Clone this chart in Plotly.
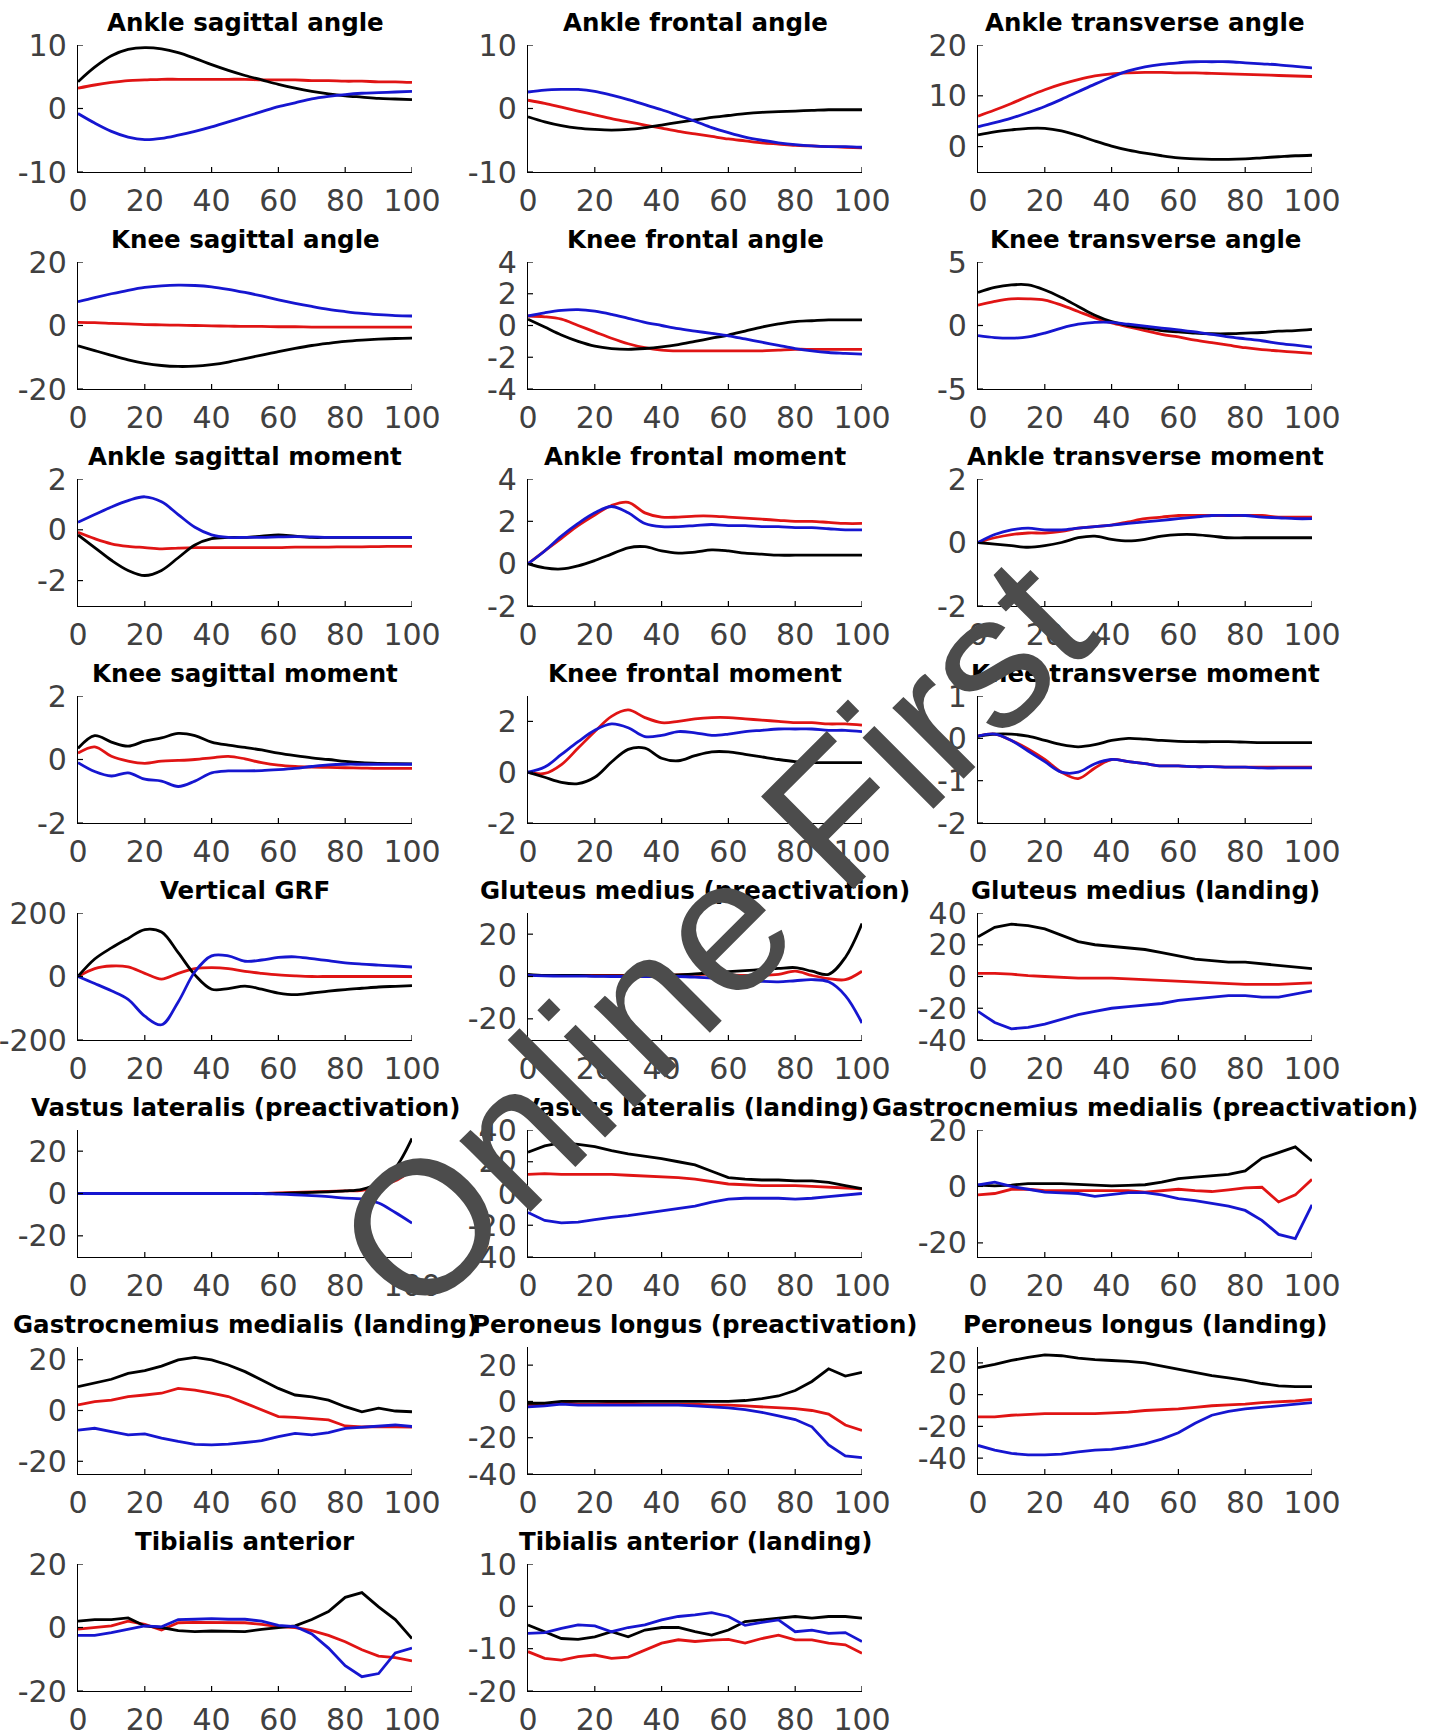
import plotly.graph_objects as go

W, H = 1439, 1733

# Normalised time (% of phase)
X = [0, 5, 10, 15, 20, 25, 30, 35, 40, 45, 50, 55, 60, 65, 70, 75, 80, 85, 90, 95, 100]
XTICKS = [0, 20, 40, 60, 80, 100]

# ---- joint angles ----
ankle_sag_ang_k = [4.2, 6.5, 8.3, 9.3, 9.6, 9.4, 8.8, 7.9, 6.9, 6.0, 5.2, 4.5, 3.8, 3.2, 2.7, 2.3, 2.0, 1.8, 1.6, 1.5, 1.4]
ankle_sag_ang_r = [3.2, 3.7, 4.1, 4.4, 4.5, 4.6, 4.6, 4.6, 4.6, 4.6, 4.6, 4.5, 4.5, 4.5, 4.4, 4.4, 4.3, 4.3, 4.2, 4.2, 4.1]
ankle_sag_ang_b = [-0.8, -2.3, -3.6, -4.5, -4.9, -4.7, -4.2, -3.6, -2.9, -2.1, -1.3, -0.5, 0.3, 0.9, 1.5, 1.9, 2.2, 2.4, 2.5, 2.6, 2.7]

ankle_front_ang_k = [-1.3, -2.1, -2.7, -3.1, -3.3, -3.4, -3.3, -3.0, -2.6, -2.2, -1.8, -1.4, -1.1, -0.8, -0.6, -0.5, -0.4, -0.3, -0.2, -0.2, -0.2]
ankle_front_ang_r = [1.3, 0.8, 0.2, -0.4, -1.0, -1.6, -2.1, -2.6, -3.1, -3.6, -4.0, -4.4, -4.8, -5.1, -5.4, -5.6, -5.8, -5.9, -6.0, -6.1, -6.2]
ankle_front_ang_b = [2.6, 2.9, 3.0, 3.0, 2.7, 2.1, 1.4, 0.6, -0.2, -1.1, -2.0, -3.0, -3.8, -4.5, -5.0, -5.4, -5.7, -5.9, -6.0, -6.0, -6.1]

ankle_trans_ang_k = [2.3, 2.9, 3.3, 3.6, 3.6, 3.1, 2.2, 1.1, 0.1, -0.7, -1.3, -1.8, -2.2, -2.4, -2.5, -2.5, -2.4, -2.2, -2.0, -1.8, -1.7]
ankle_trans_ang_r = [6.0, 7.2, 8.5, 9.9, 11.2, 12.3, 13.2, 13.9, 14.3, 14.5, 14.6, 14.6, 14.5, 14.5, 14.4, 14.3, 14.2, 14.1, 14.0, 13.9, 13.8]
ankle_trans_ang_b = [3.9, 4.7, 5.6, 6.7, 7.9, 9.3, 10.8, 12.3, 13.7, 14.9, 15.7, 16.2, 16.5, 16.7, 16.7, 16.7, 16.5, 16.3, 16.1, 15.8, 15.5]

knee_sag_ang_k = [-6.4, -7.9, -9.4, -10.8, -11.9, -12.6, -12.9, -12.8, -12.3, -11.5, -10.4, -9.3, -8.2, -7.2, -6.3, -5.6, -5.0, -4.6, -4.3, -4.1, -4.0]
knee_sag_ang_r = [1.0, 0.9, 0.7, 0.5, 0.3, 0.2, 0.1, 0.0, -0.1, -0.2, -0.3, -0.3, -0.4, -0.4, -0.5, -0.5, -0.5, -0.5, -0.5, -0.5, -0.5]
knee_sag_ang_b = [7.5, 8.8, 10.0, 11.1, 12.0, 12.5, 12.7, 12.6, 12.2, 11.4, 10.4, 9.3, 8.1, 7.0, 6.0, 5.1, 4.4, 3.8, 3.4, 3.1, 3.0]

knee_front_ang_k = [0.4, -0.1, -0.6, -1.0, -1.3, -1.45, -1.5, -1.45, -1.35, -1.2, -1.0, -0.8, -0.6, -0.35, -0.1, 0.1, 0.25, 0.3, 0.35, 0.35, 0.35]
knee_front_ang_r = [0.6, 0.55, 0.4, 0.0, -0.4, -0.8, -1.15, -1.4, -1.55, -1.6, -1.6, -1.6, -1.6, -1.6, -1.6, -1.55, -1.5, -1.5, -1.5, -1.5, -1.5]
knee_front_ang_b = [0.6, 0.8, 0.95, 1.0, 0.9, 0.7, 0.45, 0.2, 0.0, -0.2, -0.35, -0.5, -0.65, -0.85, -1.05, -1.25, -1.45, -1.6, -1.7, -1.75, -1.8]

knee_trans_ang_k = [2.6, 3.0, 3.2, 3.2, 2.8, 2.2, 1.5, 0.8, 0.3, 0.0, -0.2, -0.4, -0.5, -0.6, -0.65, -0.65, -0.6, -0.55, -0.45, -0.4, -0.3]
knee_trans_ang_r = [1.6, 1.9, 2.1, 2.1, 2.0, 1.6, 1.1, 0.6, 0.2, -0.1, -0.4, -0.7, -0.9, -1.15, -1.35, -1.55, -1.75, -1.9, -2.0, -2.1, -2.2]
knee_trans_ang_b = [-0.8, -0.95, -1.0, -0.9, -0.6, -0.2, 0.1, 0.25, 0.25, 0.1, -0.05, -0.2, -0.35, -0.5, -0.7, -0.9, -1.05, -1.2, -1.4, -1.55, -1.7]

# ---- joint moments ----
ankle_sag_mom_k = [-0.2, -0.7, -1.2, -1.6, -1.8, -1.6, -1.1, -0.6, -0.35, -0.3, -0.3, -0.25, -0.2, -0.25, -0.3, -0.3, -0.3, -0.3, -0.3, -0.3, -0.3]
ankle_sag_mom_r = [-0.1, -0.35, -0.55, -0.65, -0.7, -0.75, -0.72, -0.7, -0.7, -0.7, -0.7, -0.7, -0.7, -0.68, -0.68, -0.68, -0.67, -0.67, -0.66, -0.65, -0.65]
ankle_sag_mom_b = [0.3, 0.6, 0.9, 1.15, 1.3, 1.1, 0.6, 0.1, -0.2, -0.3, -0.3, -0.3, -0.28, -0.27, -0.28, -0.3, -0.3, -0.3, -0.3, -0.3, -0.3]

ankle_front_mom_k = [0.0, -0.2, -0.25, -0.1, 0.15, 0.45, 0.75, 0.8, 0.6, 0.5, 0.55, 0.65, 0.6, 0.5, 0.45, 0.4, 0.4, 0.4, 0.4, 0.4, 0.4]
ankle_front_mom_r = [0.0, 0.6, 1.2, 1.8, 2.3, 2.75, 2.9, 2.4, 2.2, 2.2, 2.25, 2.25, 2.2, 2.15, 2.1, 2.05, 2.0, 2.0, 1.95, 1.9, 1.9]
ankle_front_mom_b = [0.0, 0.6, 1.3, 1.9, 2.4, 2.7, 2.4, 1.9, 1.75, 1.75, 1.8, 1.85, 1.8, 1.8, 1.75, 1.75, 1.7, 1.7, 1.65, 1.6, 1.6]

ankle_trans_mom_k = [0.0, -0.05, -0.1, -0.15, -0.1, 0.0, 0.15, 0.2, 0.1, 0.05, 0.1, 0.2, 0.25, 0.25, 0.2, 0.15, 0.15, 0.15, 0.15, 0.15, 0.15]
ankle_trans_mom_r = [0.0, 0.15, 0.25, 0.3, 0.3, 0.35, 0.45, 0.5, 0.55, 0.65, 0.75, 0.8, 0.85, 0.85, 0.85, 0.85, 0.85, 0.85, 0.8, 0.8, 0.8]
ankle_trans_mom_b = [0.0, 0.25, 0.4, 0.45, 0.4, 0.4, 0.45, 0.5, 0.55, 0.6, 0.65, 0.7, 0.75, 0.8, 0.85, 0.85, 0.85, 0.8, 0.78, 0.75, 0.75]

knee_sag_mom_k = [0.35, 0.75, 0.55, 0.42, 0.58, 0.68, 0.82, 0.75, 0.55, 0.45, 0.38, 0.3, 0.2, 0.12, 0.05, 0.0, -0.06, -0.1, -0.12, -0.13, -0.14]
knee_sag_mom_r = [0.2, 0.4, 0.1, -0.05, -0.12, -0.05, -0.03, 0.0, 0.05, 0.1, 0.02, -0.1, -0.18, -0.22, -0.24, -0.25, -0.26, -0.27, -0.28, -0.28, -0.28]
knee_sag_mom_b = [-0.1, -0.38, -0.52, -0.42, -0.62, -0.68, -0.85, -0.68, -0.42, -0.36, -0.36, -0.35, -0.32, -0.28, -0.22, -0.17, -0.15, -0.15, -0.15, -0.15, -0.15]

knee_front_mom_k = [0.0, -0.2, -0.4, -0.45, -0.2, 0.4, 0.9, 0.95, 0.55, 0.45, 0.65, 0.8, 0.8, 0.7, 0.6, 0.5, 0.42, 0.38, 0.38, 0.38, 0.38]
knee_front_mom_r = [0.0, -0.05, 0.3, 0.95, 1.6, 2.2, 2.45, 2.15, 1.95, 2.0, 2.1, 2.15, 2.15, 2.1, 2.05, 2.0, 1.95, 1.95, 1.9, 1.9, 1.85]
knee_front_mom_b = [0.0, 0.2, 0.7, 1.2, 1.65, 1.9, 1.75, 1.4, 1.45, 1.6, 1.55, 1.45, 1.5, 1.6, 1.65, 1.7, 1.7, 1.7, 1.65, 1.65, 1.6]

knee_trans_mom_k = [0.05, 0.1, 0.1, 0.05, -0.05, -0.15, -0.2, -0.15, -0.05, 0.0, -0.02, -0.05, -0.07, -0.08, -0.08, -0.08, -0.09, -0.1, -0.1, -0.1, -0.1]
knee_trans_mom_r = [0.05, 0.1, -0.05, -0.25, -0.5, -0.8, -0.95, -0.7, -0.5, -0.55, -0.6, -0.65, -0.65, -0.67, -0.67, -0.68, -0.68, -0.68, -0.68, -0.68, -0.68]
knee_trans_mom_b = [0.05, 0.1, -0.05, -0.3, -0.55, -0.8, -0.8, -0.6, -0.5, -0.55, -0.6, -0.65, -0.65, -0.67, -0.67, -0.68, -0.68, -0.7, -0.7, -0.7, -0.7]

# ---- ground reaction force ----
vgrf_k = [0, 55, 90, 120, 148, 140, 75, 5, -40, -38, -30, -40, -52, -57, -52, -46, -41, -37, -33, -31, -29]
vgrf_r = [0, 25, 33, 30, 10, -8, 10, 25, 28, 25, 16, 10, 5, 2, 0, 0, 0, 0, 0, 0, 0]
vgrf_b = [0, -22, -45, -72, -125, -152, -80, 15, 65, 65, 48, 52, 60, 62, 56, 50, 43, 39, 36, 33, 30]

# ---- muscle activity ----
glut_pre_k = [1.0, 0.5, 0.5, 0.5, 0.3, 0.3, 0.3, 0.3, 0.5, 0.8, 1.2, 1.8, 2.3, 2.8, 3.3, 3.8, 4.2, 2.5, 1.0, 9.0, 25.0]
glut_pre_r = [0.5, 0.5, 0.5, 0.5, 0.5, 0.5, 0.5, 0.5, 0.5, 0.8, 1.0, 1.0, 0.8, 0.5, 0.5, 1.0, 2.5, 0.5, -1.0, -1.5, 2.5]
glut_pre_b = [0.5, 0.3, 0.2, 0.2, 0.1, 0.0, 0.0, 0.0, 0.0, 0.0, -0.3, -0.8, -1.2, -1.8, -2.3, -2.5, -2.0, -1.5, -2.5, -9.0, -22.0]

glut_land_k = [25, 31, 33, 32, 30, 26, 22, 20, 19, 18, 17, 15, 13, 11, 10, 9, 9, 8, 7, 6, 5]
glut_land_r = [2, 2, 1.5, 0.5, 0, -0.5, -1, -1, -1, -1.5, -2, -2.5, -3, -3.5, -4, -4.5, -5, -5, -5, -4.5, -4]
glut_land_b = [-22, -29, -33, -32, -30, -27, -24, -22, -20, -19, -18, -17, -15, -14, -13, -12, -12, -13, -13, -11, -9]

vl_pre_k = [0, 0, 0, 0, 0, 0, 0, 0, 0, 0, 0, 0, 0, 0.3, 0.5, 0.8, 1.2, 2.0, 5.0, 12.0, 26.0]
vl_pre_r = [0, 0, 0, 0, 0, 0, 0, 0, 0, 0, 0, 0, 0.3, 0.5, 0.8, 1.0, 1.2, 1.5, 3.5, 6.0, 11.0]
vl_pre_b = [0, 0, 0, 0, 0, 0, 0, 0, 0, 0, 0, 0, -0.3, -0.6, -1.0, -1.5, -2.2, -2.5, -4.5, -9.0, -14.0]

vl_land_k = [26, 30, 32, 31, 29.5, 27, 25, 23.5, 22, 20, 18, 14, 10, 9, 8.5, 8.5, 8, 8, 7, 5, 3]
vl_land_r = [12, 12.5, 12, 12, 12, 12, 11.5, 11, 10.5, 10, 9, 7.5, 6, 5.5, 5, 5, 5, 4.5, 4, 3.5, 3]
vl_land_b = [-12, -17, -18.5, -18, -16.5, -15, -14, -12.5, -11, -9.5, -8, -5.5, -3.5, -3, -3, -3, -3.5, -3, -2, -1, 0]

gm_pre_k = [0.5, 0.2, 0.5, 1.0, 1.0, 1.0, 0.7, 0.5, 0.2, 0.4, 0.6, 1.5, 2.8, 3.3, 3.8, 4.3, 5.5, 10, 12, 14, 9]
gm_pre_r = [-3, -2.5, -1, -1, -1.5, -1.5, -1.5, -1.5, -1.5, -1.5, -2, -1.5, -1, -1.5, -1.8, -1.2, -0.5, -0.3, -5.5, -3, 2.5]
gm_pre_b = [0.5, 1.5, 0, -1, -2, -2.3, -2.5, -3.5, -2.8, -2.2, -2.2, -3, -4.3, -5, -6, -7, -8.5, -12, -17, -18.5, -6.5]

gm_land_k = [9.4, 10.7, 12.3, 14.6, 15.7, 17.5, 19.9, 20.9, 19.9, 17.9, 15.3, 12.0, 8.7, 6.1, 5.4, 4.1, 1.5, -0.5, 0.9, -0.2, -0.5]
gm_land_r = [2.2, 3.5, 4.1, 5.5, 6.1, 6.8, 8.7, 8.0, 6.8, 5.5, 2.9, 0.2, -2.4, -2.7, -3.1, -3.7, -6.1, -6.5, -6.3, -6.3, -6.5]
gm_land_b = [-7.7, -7.0, -8.3, -9.6, -9.2, -10.9, -12.2, -13.3, -13.5, -13.2, -12.6, -11.9, -10.3, -9.0, -9.6, -8.7, -7.0, -6.6, -6.3, -5.7, -6.3]

pl_pre_k = [-1, -1, 0, 0, 0, 0, 0, 0, 0, 0, 0, 0, 0, 0.5, 1.5, 3, 6, 11, 18, 14, 16]
pl_pre_r = [-2, -2, -0.5, -1.5, -1.5, -1, -1, -1.5, -1.5, -1.5, -1.5, -2, -2, -2.5, -3, -3.5, -4, -5, -7, -13, -16]
pl_pre_b = [-3, -2.5, -1.5, -2, -2, -2, -2, -2, -2, -2, -2.5, -3, -3.5, -4.5, -6, -8, -10, -14, -24, -30, -31]

pl_land_k = [17, 19, 21.5, 23.5, 25, 24.5, 23, 22, 21.5, 21, 20, 18, 16, 14, 12, 10.5, 9, 7, 5.5, 5, 5]
pl_land_r = [-14, -14, -13, -12.5, -12, -12, -12, -12, -11.5, -11, -10, -9.5, -9, -8, -7, -6.5, -6, -5, -4.5, -4, -3]
pl_land_b = [-32, -35, -37, -38, -38, -37.5, -36, -35, -34.5, -33, -31, -28, -24, -18, -13, -10.5, -9, -8, -7, -6, -5]

ta_k = [2, 2.5, 2.5, 3, 0.5, 0, -1, -1.3, -1.1, -1.2, -1.3, -0.6, 0, 0.5, 2.5, 5, 9.5, 11, 6.5, 2.5, -3.5]
ta_r = [-0.5, 0, 0.5, 2, 1, -0.8, 1.5, 1.6, 1.6, 1.6, 1.5, 1, 0.3, 0, -1, -2.5, -4.5, -7, -9, -9.5, -10.5]
ta_b = [-2.5, -2.5, -1.6, -0.5, 0.5, 0.2, 2.5, 2.6, 2.8, 2.6, 2.6, 2, 0.7, 0.3, -2, -6.5, -12, -15.5, -14.5, -8, -6.5]

ta_land_k = [-4.4, -6, -7.6, -7.8, -7.2, -6, -7.2, -5.6, -5, -5, -6, -6.8, -5.6, -3.6, -3.2, -2.8, -2.4, -2.8, -2.4, -2.4, -2.8]
ta_land_r = [-10.7, -12.3, -12.7, -11.9, -11.5, -12.3, -12, -10.3, -8.7, -7.9, -8.3, -8, -7.8, -8.7, -7.6, -6.8, -7.9, -7.9, -8.7, -9.1, -11.1]
ta_land_b = [-6.4, -6.2, -5.2, -4.4, -4.6, -6, -5, -4.4, -3.2, -2.4, -2, -1.5, -2.4, -4.5, -3.8, -3.2, -6, -5.6, -6.4, -6.2, -8.3]

# title, y range, y ticks, black / red / blue series, line shape
PANELS = [
    ("Ankle sagittal angle", [-10, 10], [-10, 0, 10], ankle_sag_ang_k, ankle_sag_ang_r, ankle_sag_ang_b, "spline"),
    ("Ankle frontal angle", [-10, 10], [-10, 0, 10], ankle_front_ang_k, ankle_front_ang_r, ankle_front_ang_b, "spline"),
    ("Ankle transverse angle", [-5, 20], [0, 10, 20], ankle_trans_ang_k, ankle_trans_ang_r, ankle_trans_ang_b, "spline"),
    ("Knee sagittal angle", [-20, 20], [-20, 0, 20], knee_sag_ang_k, knee_sag_ang_r, knee_sag_ang_b, "spline"),
    ("Knee frontal angle", [-4, 4], [-4, -2, 0, 2, 4], knee_front_ang_k, knee_front_ang_r, knee_front_ang_b, "spline"),
    ("Knee transverse angle", [-5, 5], [-5, 0, 5], knee_trans_ang_k, knee_trans_ang_r, knee_trans_ang_b, "spline"),
    ("Ankle sagittal moment", [-3, 2], [-2, 0, 2], ankle_sag_mom_k, ankle_sag_mom_r, ankle_sag_mom_b, "spline"),
    ("Ankle frontal moment", [-2, 4], [-2, 0, 2, 4], ankle_front_mom_k, ankle_front_mom_r, ankle_front_mom_b, "spline"),
    ("Ankle transverse moment", [-2, 2], [-2, 0, 2], ankle_trans_mom_k, ankle_trans_mom_r, ankle_trans_mom_b, "spline"),
    ("Knee sagittal moment", [-2, 2], [-2, 0, 2], knee_sag_mom_k, knee_sag_mom_r, knee_sag_mom_b, "spline"),
    ("Knee frontal moment", [-2, 3], [-2, 0, 2], knee_front_mom_k, knee_front_mom_r, knee_front_mom_b, "spline"),
    ("Knee transverse moment", [-2, 1], [-2, -1, 0, 1], knee_trans_mom_k, knee_trans_mom_r, knee_trans_mom_b, "spline"),
    ("Vertical GRF", [-200, 200], [-200, 0, 200], vgrf_k, vgrf_r, vgrf_b, "spline"),
    ("Gluteus medius (preactivation)", [-30, 30], [-20, 0, 20], glut_pre_k, glut_pre_r, glut_pre_b, "spline"),
    ("Gluteus medius (landing)", [-40, 40], [-40, -20, 0, 20, 40], glut_land_k, glut_land_r, glut_land_b, "linear"),
    ("Vastus lateralis (preactivation)", [-30, 30], [-20, 0, 20], vl_pre_k, vl_pre_r, vl_pre_b, "spline"),
    ("Vastus lateralis (landing)", [-40, 40], [-40, -20, 0, 20, 40], vl_land_k, vl_land_r, vl_land_b, "linear"),
    ("Gastrocnemius medialis (preactivation)", [-25, 20], [-20, 0, 20], gm_pre_k, gm_pre_r, gm_pre_b, "linear"),
    ("Gastrocnemius medialis (landing)", [-25, 25], [-20, 0, 20], gm_land_k, gm_land_r, gm_land_b, "linear"),
    ("Peroneus longus (preactivation)", [-40, 30], [-40, -20, 0, 20], pl_pre_k, pl_pre_r, pl_pre_b, "linear"),
    ("Peroneus longus (landing)", [-50, 30], [-40, -20, 0, 20], pl_land_k, pl_land_r, pl_land_b, "linear"),
    ("Tibialis anterior", [-20, 20], [-20, 0, 20], ta_k, ta_r, ta_b, "linear"),
    ("Tibialis anterior (landing)", [-20, 10], [-20, -10, 0, 10], ta_land_k, ta_land_r, ta_land_b, "linear"),
]

# grid geometry in pixels
COL_LEFT = [78, 528, 978]
PLOT_W = 334
ROW_TOP0 = 45
ROW_STEP = 217
PLOT_H = 127
TICK_IN = 5  # length of the inward tick marks, px

BLACK, RED, BLUE = "#000000", "#e01414", "#1616d0"
TICK_FONT = dict(family="DejaVu Sans", size=30, color="#404040")
TITLE_FONT = dict(family="DejaVu Sans", size=24.5, color="#000000")

fig = go.Figure()
layout = {}
annotations = []
shapes = []

for i, (title, yr, yt, k, r, b, shape) in enumerate(PANELS):
    row, col = divmod(i, 3)
    n = "" if i == 0 else str(i + 1)
    left = COL_LEFT[col]
    top = ROW_TOP0 + row * ROW_STEP
    xd = [left / W, (left + PLOT_W) / W]
    yd = [1 - (top + PLOT_H) / H, 1 - top / H]

    for series, color in ((r, RED), (k, BLACK), (b, BLUE)):
        fig.add_trace(go.Scatter(
            x=X, y=series, mode="lines",
            line=dict(color=color, width=2.8, shape=shape),
            xaxis="x" + n, yaxis="y" + n, showlegend=False, hoverinfo="skip",
        ))

    # transparent outside ticks only set the gap between axis line and labels
    common = dict(showline=True, linecolor="#000000", linewidth=1.4, automargin=False,
                  ticks="outside", tickwidth=1, tickcolor="rgba(0,0,0,0)",
                  showgrid=False, zeroline=False, tickfont=TICK_FONT, fixedrange=True)
    layout["xaxis" + n] = dict(domain=xd, anchor="y" + n, range=[0, 100],
                               tickmode="array", tickvals=XTICKS,
                               ticktext=[str(v) for v in XTICKS], ticklen=2, **common)
    layout["yaxis" + n] = dict(domain=yd, anchor="x" + n, range=yr,
                               tickmode="array", tickvals=yt,
                               ticktext=[str(v) for v in yt], ticklen=4, **common)

    # short inward tick marks
    for v in XTICKS[1:]:
        shapes.append(dict(type="line", xref="x" + n, yref="y" + n + " domain",
                           x0=v, x1=v, y0=0, y1=TICK_IN / PLOT_H,
                           line=dict(color="#000000", width=1.2)))
    for v in yt:
        shapes.append(dict(type="line", xref="x" + n + " domain", yref="y" + n,
                           x0=0, x1=TICK_IN / PLOT_W, y0=v, y1=v,
                           line=dict(color="#000000", width=1.2)))

    annotations.append(dict(
        text="<b>" + title + "</b>", xref="paper", yref="paper",
        x=(xd[0] + xd[1]) / 2, y=1 - (top - 6) / H,
        xanchor="center", yanchor="bottom", showarrow=False, font=TITLE_FONT,
    ))

# diagonal watermark
annotations.append(dict(
    text="Online First", xref="paper", yref="paper",
    x=713 / W, y=1 - 936 / H, xanchor="center", yanchor="middle",
    textangle=-45, showarrow=False,
    font=dict(family="Liberation Sans", size=190, color="#4c4c4c"),
))

fig.update_layout(
    width=W, height=H, margin=dict(l=0, r=0, t=0, b=0, autoexpand=False),
    paper_bgcolor="#ffffff", plot_bgcolor="#ffffff",
    showlegend=False, annotations=annotations, shapes=shapes, **layout,
)

fig.write_html("out.html")
